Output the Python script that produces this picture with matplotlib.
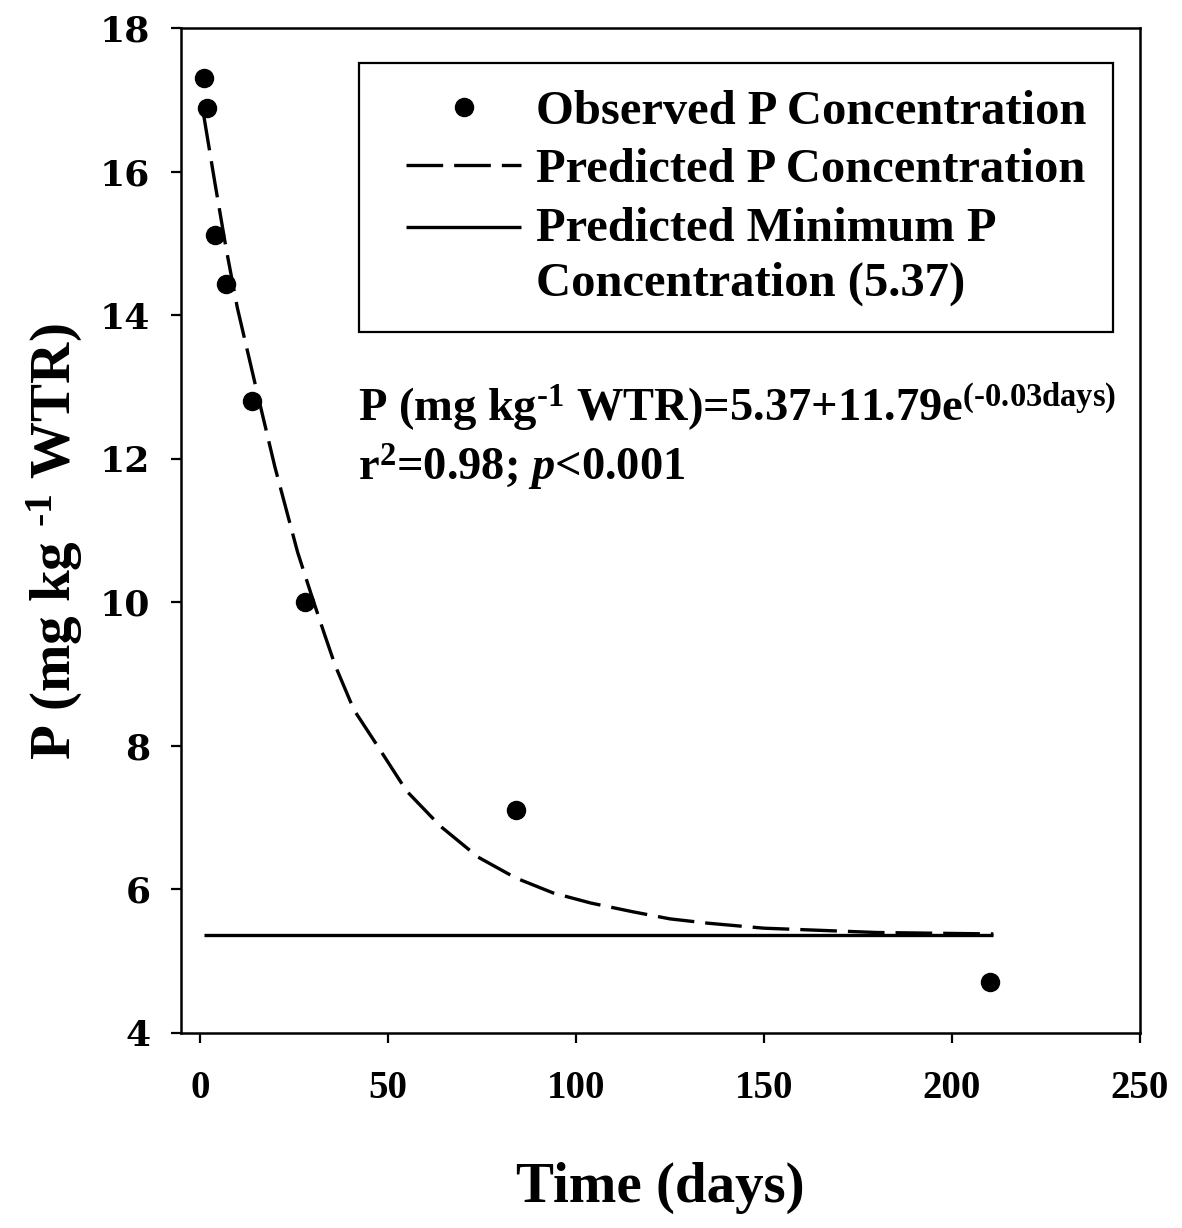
import matplotlib
matplotlib.use("Agg")
import matplotlib.pyplot as plt
from matplotlib.legend_handler import HandlerLine2D

# ---- data ----
obs_days = [1, 2, 4, 7, 14, 28, 84, 210]
obs_p = [17.30, 16.88, 15.11, 14.43, 12.80, 10.00, 7.11, 4.71]

pred_days = [1, 4, 7, 10, 15, 20, 26, 30, 33, 36, 41, 47, 55, 64, 74, 84,
             94, 104, 115, 125, 135, 150, 165, 180, 195, 211]
pred_p = [16.80, 15.85, 14.93, 14.10, 12.98, 11.88, 10.70, 10.05, 9.58, 9.12,
          8.50, 8.02, 7.37, 6.88, 6.45, 6.16, 5.95, 5.81, 5.69, 5.59, 5.53,
          5.46, 5.43, 5.40, 5.39, 5.38]

min_days = [1, 211]
min_p = [5.37, 5.37]

x_ticks = [0, 50, 100, 150, 200, 250]
y_ticks = [4, 6, 8, 10, 12, 14, 16, 18]

legend_labels = ["Observed P Concentration",
                 "Predicted P Concentration",
                 "Predicted Minimum P\nConcentration (5.37)"]

plt.rcParams['font.family'] = ['Liberation Serif', 'DejaVu Serif']
plt.rcParams['font.weight'] = 'bold'
plt.rcParams['mathtext.fontset'] = 'custom'
plt.rcParams['mathtext.rm'] = 'Liberation Serif:bold'
plt.rcParams['mathtext.bf'] = 'Liberation Serif:bold'
plt.rcParams['mathtext.it'] = 'Liberation Serif:italic:bold'


class OffsetHandler(HandlerLine2D):
    def __init__(self, xoff=0.0, yoff=0.0, **kw):
        super().__init__(**kw)
        self.xoff = xoff
        self.yoff = yoff

    def create_artists(self, legend, orig_handle, xdescent, ydescent, width,
                       height, fontsize, trans):
        return super().create_artists(legend, orig_handle,
                                      xdescent - self.xoff,
                                      ydescent - self.yoff,
                                      width - self.xoff, height, fontsize,
                                      trans)


fig = plt.figure(figsize=(11.82, 12.28), dpi=100)
ax = fig.add_axes([0.1531, 0.1588, 0.8114, 0.8184])

h_obs, = ax.plot(obs_days, obs_p, 'o', color='black', markersize=13,
                 label=legend_labels[0], zorder=3)
h_pred, = ax.plot(pred_days, pred_p, color='black', lw=2.4, dashes=(11, 3.3),
                  dash_capstyle='butt', label=legend_labels[1], zorder=2)
h_min, = ax.plot(min_days, min_p, color='black', lw=2.4, solid_capstyle='butt',
                 label=legend_labels[2], zorder=2)

ax.set_xlim(-5, 250)
ax.set_ylim(4, 18)
ax.set_xticks(x_ticks)
ax.set_yticks(y_ticks)

for s in ax.spines.values():
    s.set_linewidth(1.8)

ax.tick_params(axis='both', direction='out', length=7, width=1.6)
ax.tick_params(axis='x', pad=20)
ax.tick_params(axis='y', pad=15)
for lab in ax.get_xticklabels():
    lab.set_fontfamily('Liberation Serif')
    lab.set_fontweight('bold')
    lab.set_fontsize(28)
for lab in ax.get_yticklabels():
    lab.set_fontfamily('DejaVu Serif')
    lab.set_fontweight('bold')
    lab.set_fontsize(26)

ax.set_xlabel("Time (days)", fontsize=41, fontweight='bold')
ax.xaxis.set_label_coords(0.5, -0.128)
ax.set_ylabel("P (mg kg $^{\u2010 1}$ WTR)", fontsize=41, fontweight='bold')
ax.yaxis.set_label_coords(-0.100, 0.489)

ax.text(42, 12.53, "P (mg kg$^{\u20101}$ WTR)=5.37+11.79e$^{(\u20100.03\\mathrm{days})}$",
        fontsize=33.5, fontweight='bold', va='baseline', ha='left')
ax.text(42, 11.69, r"r$^{2}$=0.98; $\it{p}$<0.001",
        fontsize=33.5, fontweight='bold', va='baseline', ha='left')

fs = 35
xoff = 15.0
leg = ax.legend(handles=[h_obs, h_pred, h_min],
                loc='upper right', bbox_to_anchor=(0.9718, 0.9652),
                borderaxespad=0, fontsize=fs, numpoints=1, handlelength=2.78,
                handletextpad=0.31, borderpad=0.55, labelspacing=0.3,
                fancybox=False, framealpha=1, edgecolor='black',
                handler_map={h_obs: OffsetHandler(xoff=xoff),
                             h_pred: OffsetHandler(xoff=xoff),
                             h_min: OffsetHandler(xoff=xoff, yoff=42)})
leg.get_frame().set_linewidth(1.6)
for t in leg.get_texts():
    t.set_fontweight('bold')
    t.set_linespacing(1.3)

fig.savefig("out.png", dpi=100, facecolor='white')
